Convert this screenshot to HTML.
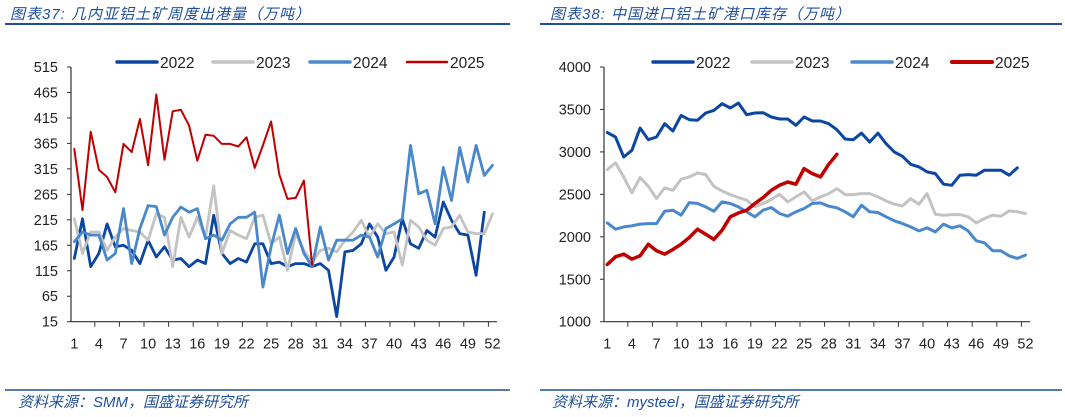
<!DOCTYPE html>
<html><head><meta charset="utf-8">
<style>
html,body{margin:0;padding:0;background:#fff;}
body{width:1065px;height:417px;overflow:hidden;position:relative;font-family:"Liberation Sans","Noto Sans CJK SC",sans-serif;}
svg{position:absolute;left:0;top:0;}
.title{font-style:italic;fill:#1f4e9c;font-size:15px;letter-spacing:1px;}
.src{font-style:italic;fill:#1f4e9c;font-size:15px;}
.tick{font-size:14.5px;fill:#222;}
.leg{font-size:15.5px;fill:#222;}
</style></head>
<body>
<svg id="chart" width="1065" height="417">
<text class="title" x="10" y="19">图表37:  几内亚铝土矿周度出港量（万吨）</text>
<line x1="5" y1="24" x2="510" y2="24" stroke="#1f4e9c" stroke-width="2"/>
<text class="title" x="550" y="19">图表38:  中国进口铝土矿港口库存（万吨）</text>
<line x1="540" y1="24" x2="1062" y2="24" stroke="#1f4e9c" stroke-width="2"/>
<line x1="5" y1="390" x2="510" y2="390" stroke="#1f4e9c" stroke-width="1.5"/>
<line x1="540" y1="390" x2="1062" y2="390" stroke="#1f4e9c" stroke-width="1.5"/>
<text class="src" x="18" y="407">资料来源：SMM，国盛证券研究所</text>
<text class="src" x="552" y="407">资料来源：mysteel，国盛证券研究所</text>
</svg>
<script>
const weeks = Array.from({length:52},(_,i)=>i+1);
const xTickLabels = [1,4,7,10,13,16,19,22,25,28,31,34,37,40,43,46,49,52];
const seriesNames = ['2022','2023','2024','2025'];
const seriesColors = ['#0b47a1','#c3c3c3','#4a88cc','#c00000'];

const leftYTicks = [15,65,115,165,215,265,315,365,415,465,515];
const left2022 = [139,217,123,149,207,162,165,155,129,175,142,162,136,139,123,136,129,224,149,129,139,132,168,168,129,132,123,129,129,123,129,116,25,152,155,168,207,181,116,142,217,168,159,194,181,250,214,188,185,106,230];
const left2023 = [217,149,191,191,155,181,198,194,191,175,227,220,123,220,181,220,181,282,149,194,185,178,220,224,168,181,116,188,155,132,155,159,152,175,191,214,181,207,188,191,126,214,201,175,165,198,201,224,191,188,188,227];
const left2024 = [172,191,185,185,136,149,237,129,198,243,241,185,220,240,230,237,178,185,175,207,220,220,230,83,162,224,149,198,149,123,201,136,175,175,175,185,181,142,198,207,217,361,266,273,207,318,253,357,289,361,302,322];
const left2025 = [354,234,388,313,299,269,364,348,413,322,461,333,428,431,400,331,382,380,364,364,359,377,317,361,408,304,256,258,292,127];

const rightYTicks = [1000,1500,2000,2500,3000,3500,4000];
const right2022 = [3227,3176,2940,3019,3281,3144,3176,3332,3246,3430,3379,3372,3458,3489,3568,3517,3575,3438,3458,3462,3411,3387,3387,3313,3411,3364,3364,3332,3262,3152,3144,3222,3117,3222,3097,2999,2948,2854,2823,2764,2744,2619,2607,2725,2733,2725,2784,2784,2784,2725,2811];
const right2023 = [2791,2870,2705,2517,2697,2595,2450,2576,2548,2678,2705,2752,2733,2595,2540,2497,2462,2431,2352,2392,2439,2501,2411,2470,2529,2423,2470,2509,2568,2497,2497,2509,2509,2470,2423,2384,2364,2450,2384,2509,2266,2254,2262,2262,2235,2164,2215,2254,2243,2305,2294,2274];
const right2024 = [2164,2090,2117,2129,2149,2156,2156,2301,2313,2254,2403,2392,2352,2301,2411,2392,2352,2294,2235,2313,2345,2274,2243,2294,2333,2392,2399,2360,2341,2294,2235,2372,2294,2286,2235,2188,2156,2117,2070,2105,2058,2149,2105,2129,2070,1953,1929,1835,1835,1776,1745,1784];
const right2025 = [1674,1764,1796,1737,1776,1913,1835,1796,1851,1913,1992,2090,2031,1968,2078,2235,2282,2313,2392,2462,2548,2607,2646,2619,2803,2744,2705,2854,2972];

const NS='http://www.w3.org/2000/svg';
const svg=document.getElementById('chart');
function mk(tag,attrs,parent){const e=document.createElementNS(NS,tag);for(const k in attrs)e.setAttribute(k,attrs[k]);(parent||svg).appendChild(e);return e;}

function drawChart(cfg){
  const g=mk('g',{});
  
  
  const x=i=>cfg.x0+(i-1)*cfg.step;
  const y=v=>cfg.yBot-(v-cfg.yMin)/(cfg.yMax-cfg.yMin)*(cfg.yBot-cfg.yTop);
  const ya=mk('line',{x1:cfg.axisX,y1:cfg.yTop,x2:cfg.axisX,y2:cfg.yBot,stroke:'#333','stroke-width':1.2},g);
  
  
  const xa=mk('line',{x1:cfg.axisX,y1:cfg.yBot,x2:cfg.axisEnd,y2:cfg.yBot,stroke:'#333','stroke-width':1.2},g);
  
  
  cfg.yTicks.forEach(v=>{
    mk('line',{x1:cfg.axisX-4,y1:y(v),x2:cfg.axisX,y2:y(v),stroke:'#333'},g);
    const t=mk('text',{x:cfg.axisX-13,y:y(v)+5,'text-anchor':'end',class:'tick'},g);
    t.textContent=v;
    
    
  });
  xTickLabels.forEach(w=>{
    const tx=x(w)+cfg.step*2.5;
    if(tx<cfg.axisEnd) mk('line',{x1:tx,y1:cfg.yBot,x2:tx,y2:cfg.yBot+5,stroke:'#333'},g);
    const t=mk('text',{x:x(w),y:cfg.yBot+27,'text-anchor':'middle',class:'tick'},g);
    t.textContent=w;
    
    
  });
  cfg.series.forEach((s,si)=>{
    const pts=s.map((v,i)=>x(weeks[i])+','+y(v).toFixed(1)).join(' ');
    const p=mk('polyline',{points:pts,fill:'none',stroke:seriesColors[si],'stroke-width':cfg.widths[si],'stroke-linejoin':'round','stroke-linecap':'round'},g);
    
    
  });
  seriesNames.forEach((n,si)=>{
    const lx=cfg.legX[si];
    const l=mk('line',{x1:lx,y1:62,x2:lx+40,y2:62,stroke:seriesColors[si],'stroke-width':cfg.legW[si],'stroke-linecap':'round'},g);
    
    
    const t=mk('text',{x:lx+43,y:68,class:'leg'},g);
    t.textContent=n;
    
    
  });
}
drawChart({name:'left-chart-guinea-exports',x0:74.3,step:8.2,axisX:71,axisEnd:497,yTop:67,yBot:321.7,yMin:15,yMax:515,yTicks:leftYTicks,
  series:[left2022,left2023,left2024,left2025],widths:[2.8,2.8,2.8,2],legX:[117,213,310,407],legW:[3.5,3.5,3.5,2.5]});
drawChart({name:'right-chart-port-inventory',x0:607.3,step:8.2,axisX:604,axisEnd:1030,yTop:67,yBot:321.7,yMin:1000,yMax:4000,yTicks:rightYTicks,
  series:[right2022,right2023,right2024,right2025],widths:[3,3,3,3.5],legX:[653,752,852,952],legW:[3.5,3.5,3.5,4]});
</script>
</body></html>
